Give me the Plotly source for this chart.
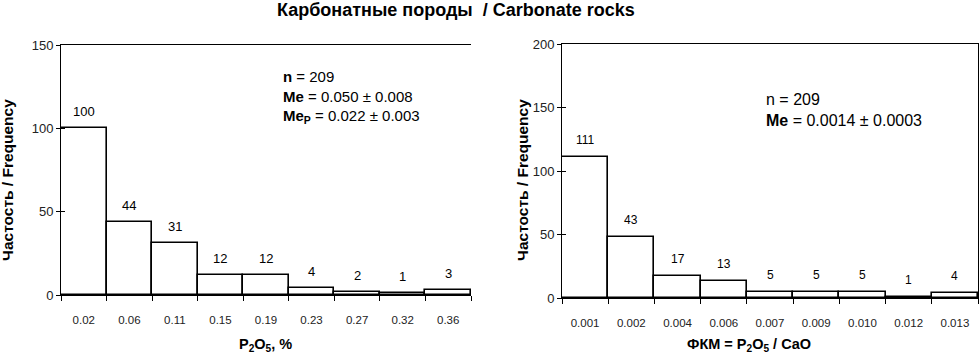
import plotly.graph_objects as go

# Left panel: P2O5, %
left_bins = ["0.02", "0.06", "0.11", "0.15", "0.19", "0.23", "0.27", "0.32", "0.36"]
left_counts = [100, 44, 31, 12, 12, 4, 2, 1, 3]

# Right panel: ФКМ = P2O5 / CaO
right_bins = ["0.001", "0.002", "0.004", "0.006", "0.007", "0.009", "0.010", "0.012", "0.013"]
right_counts = [111, 48, 17, 13, 5, 5, 5, 1, 4]
right_labels = ["111", "43", "17", "13", "5", "5", "5", "1", "4"]

title_text = "<b>Карбонатные породы  / Carbonate rocks</b>"
ytitle = "<b>Частость / Frequency</b>"
left_xtitle = "<b>P<sub>2</sub>O<sub>5</sub>, %</b>"
right_xtitle = "<b>ФКМ = P<sub>2</sub>O<sub>5</sub> / CaO</b>"
left_stats = "<b>n</b> = 209<br><b>Me</b> = 0.050 ± 0.008<br><b>Me<sub>P</sub></b> = 0.022 ± 0.003"
right_stats = "n = 209<br><b>Me</b> = 0.0014 ± 0.0003"

FONT = "Liberation Sans, Arial, sans-serif"

fig = go.Figure()

bar_style = dict(marker=dict(color="white", line=dict(color="black", width=1.6)),
                 showlegend=False, hoverinfo="skip")
fig.add_trace(go.Bar(x=left_bins, y=left_counts, xaxis="x", yaxis="y", **bar_style))
fig.add_trace(go.Bar(x=right_bins, y=right_counts, xaxis="x2", yaxis="y2", **bar_style))

annotations = []
for i, c in enumerate(left_counts):
    annotations.append(dict(x=i, y=c, xref="x", yref="y", text=str(c), showarrow=False,
                            yanchor="bottom", yshift=7, font=dict(size=13, color="black")))
for i, (c, t) in enumerate(zip(right_counts, right_labels)):
    annotations.append(dict(x=i, y=c, xref="x2", yref="y2", text=t, showarrow=False,
                            yanchor="bottom", yshift=8, font=dict(size=12, color="black")))

annotations += [
    dict(x=456/980, y=1-10/356, xref="paper", yref="paper", text=title_text, showarrow=False,
         xanchor="center", yanchor="middle", font=dict(size=18, color="black")),
    dict(x=7/980, y=1-180/356, xref="paper", yref="paper", text=ytitle, showarrow=False,
         textangle=-90, xanchor="center", yanchor="middle", font=dict(size=15.5, color="black")),
    dict(x=522/980, y=1-180/356, xref="paper", yref="paper", text=ytitle, showarrow=False,
         textangle=-90, xanchor="center", yanchor="middle", font=dict(size=15.5, color="black")),
    dict(x=265/980, y=1-345/356, xref="paper", yref="paper", text=left_xtitle, showarrow=False,
         xanchor="center", yanchor="middle", font=dict(size=14.5, color="black")),
    dict(x=749/980, y=1-345/356, xref="paper", yref="paper", text=right_xtitle, showarrow=False,
         xanchor="center", yanchor="middle", font=dict(size=14.5, color="black")),
    dict(x=281/980, y=1-66/356, xref="paper", yref="paper", text=left_stats, showarrow=False,
         xanchor="left", yanchor="top", align="left", font=dict(size=15, color="black")),
    dict(x=764/980, y=1-89/356, xref="paper", yref="paper", text=right_stats, showarrow=False,
         xanchor="left", yanchor="top", align="left", font=dict(size=16, color="black")),
]

xcommon = dict(type="category", tickson="boundaries", ticks="outside", ticklen=5,
               tickcolor="black", showline=True, linecolor="black", linewidth=1,
               showgrid=False, zeroline=False, automargin=False, ticklabelstandoff=14,
               tickfont=dict(size=11.5, color="#222"))
ycommon = dict(ticks="outside", ticklen=4, tickcolor="black", showline=True,
               linecolor="black", linewidth=1, showgrid=False, zeroline=False,
               automargin=False, tickfont=dict(size=13, color="#222"), dtick=50)

fig.update_layout(
    width=980, height=356,
    margin=dict(l=0, r=0, t=0, b=0, autoexpand=False),
    paper_bgcolor="white", plot_bgcolor="white",
    font=dict(family=FONT, color="black"),
    bargap=0,
    xaxis=dict(domain=[61/980, 471/980], anchor="y", mirror=True, **xcommon),
    yaxis=dict(domain=[1-295/356, 1-45/356], anchor="x", range=[0, 150], **ycommon),
    xaxis2=dict(domain=[562/980, 978/980], anchor="y2", mirror=True, **xcommon),
    yaxis2=dict(domain=[1-298/356, 1-44/356], anchor="x2", range=[0, 200], mirror=True, **ycommon),
    # overlay axes to give crossing tick marks on the y axes
    yaxis3=dict(domain=[1-295/356, 1-45/356], anchor="x", overlaying="y", range=[0, 150],
                ticks="inside", ticklen=4, tickcolor="black", showticklabels=False,
                showgrid=False, zeroline=False, showline=False, dtick=50, automargin=False),
    yaxis4=dict(domain=[1-298/356, 1-44/356], anchor="x2", overlaying="y2", range=[0, 200],
                ticks="inside", ticklen=4, tickcolor="black", showticklabels=False,
                showgrid=False, zeroline=False, showline=False, dtick=50, automargin=False),
    annotations=annotations,
)
fig.add_trace(go.Scatter(x=[None], y=[None], yaxis="y3", xaxis="x", showlegend=False, hoverinfo="skip"))
fig.add_trace(go.Scatter(x=[None], y=[None], yaxis="y4", xaxis="x2", showlegend=False, hoverinfo="skip"))

fig.write_html("out.html", config={"displayModeBar": False},
               post_script="document.body.style.margin='0';document.body.style.padding='0';")
